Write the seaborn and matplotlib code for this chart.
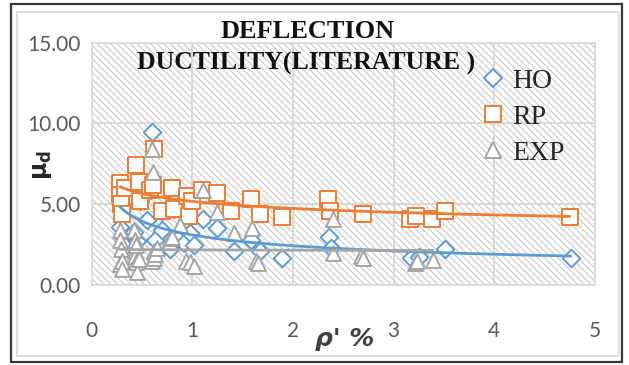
import numpy as np
import pandas as pd
import matplotlib
matplotlib.use("Agg")
import matplotlib.pyplot as plt
import seaborn as sns
from matplotlib.patches import Rectangle
from matplotlib.lines import Line2D

# ---------------- data (some points sit hidden under others) ----------------
ho_x = [0.28, 0.28, 0.29, 0.30, 0.33, 0.33, 0.42, 0.45, 0.47, 0.48, 0.55, 0.58,
        0.60, 0.63, 0.70, 0.70, 0.78, 0.82, 0.85, 0.92, 0.97, 0.98, 1.02, 1.11,
        1.24, 1.41, 1.58, 1.67, 1.89, 2.36, 2.38, 3.17, 3.25, 3.51, 4.76]
ho_y = [3.6, 5.6, 5.0, 3.0, 2.4, 6.0, 3.3, 2.7, 6.4, 5.2, 4.0, 5.9,
        9.45, 2.8, 3.4, 4.6, 2.2, 4.7, 2.9, 2.6, 4.3, 3.2, 2.5, 4.1,
        3.55, 2.1, 2.8, 2.1, 1.7, 3.0, 2.3, 1.7, 1.75, 2.25, 1.7]

rp_x = [0.28, 0.28, 0.29, 0.30, 0.33, 0.44, 0.47, 0.48, 0.58, 0.61, 0.62, 0.70,
        0.80, 0.82, 0.95, 0.97, 1.00, 1.10, 1.24, 1.38, 1.58, 1.67, 1.89, 2.35,
        2.37, 2.70, 3.16, 3.22, 3.38, 3.51, 4.75]
rp_y = [6.3, 5.6, 5.0, 4.4, 6.0, 7.4, 6.4, 5.2, 5.9, 6.2, 8.4, 4.6,
        6.0, 4.7, 5.5, 4.3, 5.2, 5.9, 5.7, 4.6, 5.3, 4.4, 4.2, 5.3,
        4.6, 4.4, 4.1, 4.3, 4.1, 4.6, 4.2]

exp_x = [0.28, 0.28, 0.28, 0.29, 0.30, 0.30, 0.42, 0.43, 0.43,
         0.43, 0.44, 0.44, 0.45, 0.47, 0.60, 0.60, 0.61, 0.62, 0.62, 0.63,
         0.65, 0.78, 0.80, 0.88, 0.94, 0.98, 1.02, 1.11, 1.24, 1.41, 1.59, 1.63,
         1.65, 2.40, 2.40, 2.68, 2.70, 3.21, 3.23, 3.39]
exp_y = [3.4, 2.8, 1.3, 2.2, 1.5, 1.0, 3.4, 2.8, 2.1,
         1.8, 1.4, 2.5, 0.8, 1.6, 8.4, 1.5, 7.0, 1.7, 2.1, 1.9,
         2.3, 2.9, 3.0, 3.7, 1.5, 1.4, 1.2, 5.9, 4.5, 3.2, 3.5, 1.5,
         1.35, 4.1, 2.0, 1.8, 1.65, 1.35, 1.5, 1.55]

series_names = ["HO", "RP", "EXP"]
x_ticks = [0, 1, 2, 3, 4, 5]
y_ticks = [0, 5, 10, 15]

# ---------------- style ----------------
sns.set_theme(style="white")
plt.rcParams['font.family'] = ['DejaVu Sans']
plt.rcParams['hatch.linewidth'] = 0.7

C_HO = "#5B9BD5"
C_RP = "#ED7D31"
C_EXP = "#A5A5A5"
GRID = "#d9d9d9"

W, H = 629, 365
fig = plt.figure(figsize=(W / 100, H / 100), dpi=100)
fig.patch.set_facecolor("white")

left, right, top, bottom = 91.7, 595, 42.7, 285
ax = fig.add_axes([left / W, 1 - bottom / H, (right - left) / W, (bottom - top) / H])
ax.set_facecolor("white")
ax.add_patch(Rectangle((0, 0), 1, 1, transform=ax.transAxes, facecolor="white",
                       edgecolor="#c4c4c4", hatch="\\\\\\\\\\", lw=0, zorder=0))

ax.set_xlim(0, 5)
ax.set_ylim(0, 15)
ax.set_axisbelow(True)
ax.grid(True, color=GRID, lw=1.5)
for s in ax.spines.values():
    s.set_color(GRID)
    s.set_linewidth(1.2)

# ---------------- scatter ----------------
df = pd.concat([
    pd.DataFrame({"x": ho_x, "y": ho_y, "s": "HO"}),
    pd.DataFrame({"x": rp_x, "y": rp_y, "s": "RP"}),
    pd.DataFrame({"x": exp_x, "y": exp_y, "s": "EXP"}),
])
specs = {"HO": ("D", 80, C_HO), "RP": ("s", 145, C_RP), "EXP": ("^", 115, C_EXP)}
for i, name in enumerate(series_names):
    m, sz, c = specs[name]
    d = df[df.s == name]
    sns.scatterplot(data=d, x="x", y="y", marker=m, s=sz, color="white",
                    edgecolor=c, linewidth=1.4, ax=ax, zorder=3 + i, legend=False)

# ---------------- power trend lines (fit from the data) ----------------
for i, name in enumerate(series_names):
    d = df[df.s == name]
    b, lna = np.polyfit(np.log(d.x), np.log(d.y), 1)
    xs = np.linspace(d.x.min(), d.x.max(), 200)
    ys = np.exp(lna) * xs ** b
    c = specs[name][2]
    sns.lineplot(x=xs, y=ys, color=c, lw=2.0, ax=ax, zorder=7)

# ---------------- axes text ----------------
ax.set_xticks(x_ticks)
ax.set_xticklabels([str(t) for t in x_ticks])
ax.set_yticks(y_ticks)
ax.set_yticklabels([f"{t:.2f}" for t in y_ticks])
ax.tick_params(axis="both", length=0, labelsize=15, colors="#595959",
               labelfontfamily="Lato")
ax.tick_params(axis="x", pad=26)
ax.tick_params(axis="y", pad=8)
ax.set_xlabel("")
ax.set_ylabel("")

fig.text(42 / W, 1 - 165 / H, "μ$_\\mathbf{d}$", rotation=90, ha="center",
         va="center", fontsize=17, fontweight="bold", color="#262626")
fig.text(345 / W, 1 - 339 / H, "ρ' %", ha="center", va="center", fontsize=18,
         fontweight="bold", style="italic", color="#404040")

fig.text(308 / W, 1 - 31 / H, "DEFLECTION", ha="center", va="center",
         fontsize=19, fontweight="bold", family="Liberation Serif", color="#111111")
fig.text(306 / W, 1 - 63 / H, "DUCTILITY(LITERATURE )", ha="center", va="center",
         fontsize=18.5, fontweight="bold", family="Liberation Serif", color="#111111")

# ---------------- legend ----------------
handles = [Line2D([], [], marker=specs[n][0], ls="none", mfc="white",
                  mec=specs[n][2], mew=1.4,
                  ms={"HO": 9, "RP": 12, "EXP": 11}[n]) for n in series_names]
leg = ax.legend(handles, series_names, loc="center left",
                bbox_to_anchor=(483 / W, 1 - 117 / H), bbox_transform=fig.transFigure,
                frameon=False, handlelength=0.7, handletextpad=0.35,
                labelspacing=0.38, borderpad=0, borderaxespad=0,
                prop={"family": "Liberation Serif", "size": 20})
for t in leg.get_texts():
    t.set_color("#262626")

# ---------------- frames ----------------
fig.add_artist(Rectangle((17 / W, 1 - 356 / H), (619 - 17) / W, (356 - 12) / H,
                         transform=fig.transFigure, fill=False, ec="#d9d9d9", lw=1.2))
fig.add_artist(Rectangle((11 / W, 1 - 362 / H), (622 - 11) / W, (362 - 4) / H,
                         transform=fig.transFigure, fill=False, ec="#3a3a3a", lw=1.6))

fig.savefig("out.png", dpi=100)
